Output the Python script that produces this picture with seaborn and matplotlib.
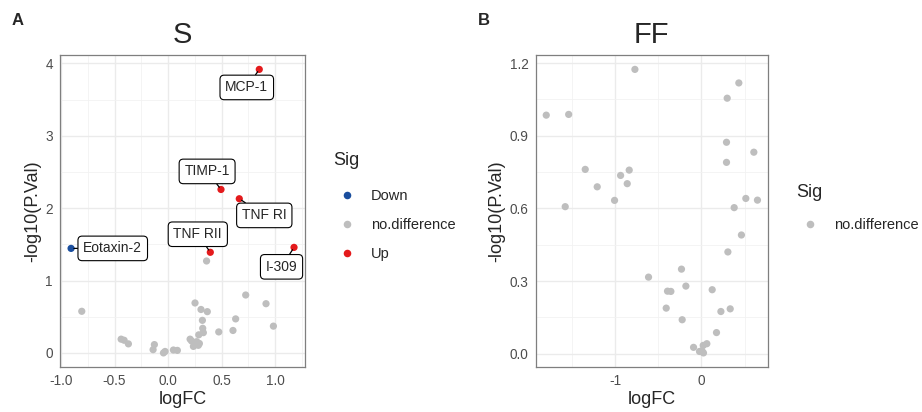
import matplotlib
matplotlib.use("Agg")
import matplotlib.pyplot as plt
from matplotlib.ticker import MultipleLocator, FormatStrFormatter
import pandas as pd
import seaborn as sns

# panel A (S)
s_logfc = [0.853, 0.495, 0.666, 0.395, 1.178, -0.907,
           0.36, -0.807, 0.726, 0.916, 0.252, 0.308, 0.367, 0.321, 0.632,
           0.985, 0.324, 0.33, 0.287, 0.474, 0.607, 0.206, 0.22, 0.268,
           0.293, 0.237, 0.283, -0.439, -0.411, -0.371, -0.128, -0.14,
           -0.043, -0.028, 0.05, 0.087]
s_pval = [3.917, 2.258, 2.13, 1.39, 1.458, 1.444,
          1.27, 0.575, 0.80, 0.68, 0.69, 0.60, 0.57, 0.45, 0.47,
          0.37, 0.34, 0.28, 0.25, 0.29, 0.31, 0.19, 0.165, 0.155,
          0.13, 0.09, 0.105, 0.19, 0.175, 0.125, 0.115, 0.045,
          0.0, 0.02, 0.04, 0.035]
s_sig = ["Up"] * 5 + ["Down"] + ["no.difference"] * 30
s_label = ["MCP-1", "TIMP-1", "TNF RI", "TNF RII", "I-309", "Eotaxin-2"] + [""] * 30

# panel B (FF)
ff_logfc = [-1.80, -1.54, -0.772, 0.433, 0.298, 0.29, 0.29, 0.607, -1.348,
            -1.209, -0.938, -0.838, -0.861, -1.008, -1.58, 0.379, 0.514,
            0.649, 0.463, 0.306, -0.614, -0.232, -0.181, -0.394, -0.355,
            0.124, -0.409, 0.333, 0.225, -0.224, 0.174, -0.092, 0.02, 0.062,
            -0.023, 0.023, 0.005]
ff_pval = [0.985, 0.988, 1.174, 1.118, 1.055, 0.873, 0.79, 0.832, 0.761,
           0.689, 0.736, 0.758, 0.702, 0.633, 0.607, 0.603, 0.641,
           0.634, 0.49, 0.42, 0.316, 0.349, 0.279, 0.258, 0.257,
           0.264, 0.188, 0.185, 0.174, 0.14, 0.087, 0.026, 0.034, 0.041,
           0.009, 0.003, 0.012]
ff_sig = ["no.difference"] * len(ff_logfc)

sig_order = ["Down", "no.difference", "Up"]
sig_colors = {"Down": "#1A4E9E", "no.difference": "#BEBEBE", "Up": "#E41A1C"}

# label offsets (points) for the repel-style boxes
label_offsets = {"MCP-1": (-9, -13), "TIMP-1": (-10, 13), "TNF RI": (18, -12),
                 "TNF RII": (-9, 13), "I-309": (-9, -14), "Eotaxin-2": (30, 0)}

dfS = pd.DataFrame({"logFC": s_logfc, "p": s_pval, "Sig": s_sig, "label": s_label})
dfF = pd.DataFrame({"logFC": ff_logfc, "p": ff_pval, "Sig": ff_sig})

sns.set_style("white")
plt.rcParams["font.family"] = ["Liberation Sans", "DejaVu Sans"]
plt.rcParams["axes.unicode_minus"] = False

fig = plt.figure(figsize=(9.22, 4.12), dpi=100)
axA = fig.add_axes([0.065, 0.109, 0.266, 0.757])
axB = fig.add_axes([0.581, 0.109, 0.252, 0.757])


def style_axis(ax, df, xmaj, xmin, ymaj, ymin, xfmt, yfmt):
    lo, hi = df["logFC"].min(), df["logFC"].max()
    pad = (hi - lo) * 0.05
    ax.set_xlim(lo - pad, hi + pad)
    lo, hi = df["p"].min(), df["p"].max()
    pad = (hi - lo) * 0.05
    ax.set_ylim(lo - pad, hi + pad)
    ax.xaxis.set_major_locator(MultipleLocator(xmaj))
    ax.xaxis.set_minor_locator(MultipleLocator(xmin))
    ax.yaxis.set_major_locator(MultipleLocator(ymaj))
    ax.yaxis.set_minor_locator(MultipleLocator(ymin))
    ax.xaxis.set_major_formatter(FormatStrFormatter(xfmt))
    ax.yaxis.set_major_formatter(FormatStrFormatter(yfmt))
    ax.grid(which="major", color="#EBEBEB", linewidth=1.0)
    ax.grid(which="minor", color="#F2F2F2", linewidth=0.6)
    ax.set_axisbelow(True)
    for sp in ax.spines.values():
        sp.set_color("#7F7F7F")
        sp.set_linewidth(0.9)
    ax.tick_params(which="major", length=3, width=0.8, color="#333333",
                   labelsize=9.8, labelcolor="#4D4D4D", pad=2)
    ax.tick_params(which="minor", length=0)
    ax.set_xlabel("logFC", fontsize=13, labelpad=2)
    ax.set_ylabel("-log10(P.Val)", fontsize=13, labelpad=3)


sns.scatterplot(data=dfS, x="logFC", y="p", hue="Sig", hue_order=sig_order,
                palette=sig_colors, s=27, edgecolor="none", ax=axA, zorder=3)
style_axis(axA, dfS, 0.5, 0.25, 1, 0.5, "%.1f", "%d")
axA.set_title("S", fontsize=21, pad=9)

for _, r in dfS[dfS["label"] != ""].iterrows():
    axA.annotate(r["label"], xy=(r["logFC"], r["p"]),
                 xytext=label_offsets[r["label"]], textcoords="offset points",
                 ha="center", va="center", fontsize=10, zorder=5,
                 bbox=dict(boxstyle="round,pad=0.38,rounding_size=0.3",
                           fc="white", ec="black", lw=0.8),
                 arrowprops=dict(arrowstyle="-", color="black", lw=0.9,
                                 shrinkA=0, shrinkB=2))

sns.scatterplot(data=dfF, x="logFC", y="p", hue="Sig", palette=sig_colors,
                s=27, edgecolor="none", ax=axB, zorder=3)
style_axis(axB, dfF, 1, 0.5, 0.3, 0.15, "%d", "%.1f")
axB.set_title("FF", fontsize=21, pad=9)

legend_spots = [(axA, (333 / 922, 1 - 152 / 412), 14.5),
                (axB, (796 / 922, 1 - 184 / 412), 12.0)]
for ax, anchor, title_gap in legend_spots:
    sns.move_legend(ax, loc="upper left", bbox_to_anchor=anchor,
                    bbox_transform=fig.transFigure, frameon=False,
                    title="Sig", fontsize=10.5, title_fontsize=13,
                    handlelength=1.9, handletextpad=0.7, labelspacing=1.02,
                    borderpad=0, borderaxespad=0, markerscale=1.05,
                    alignment="left")
    # a bit more room between the title and the first entry
    ax.get_legend()._legend_box.sep = title_gap

fig.text(12 / 922, 1 - 25 / 412, "A", fontsize=12, fontweight="bold")
fig.text(478 / 922, 1 - 25 / 412, "B", fontsize=12, fontweight="bold")

fig.savefig("out.png", dpi=100)
